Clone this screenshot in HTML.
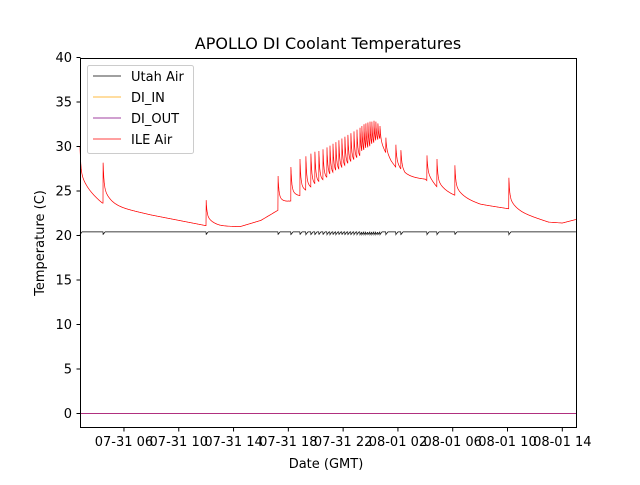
<!DOCTYPE html>
<html><head><meta charset="utf-8"><style>
body{margin:0;background:#fff;}
svg text{font-family:"DejaVu Sans","Liberation Sans",sans-serif;}
</style></head><body>
<svg id="chart" width="640" height="480" xmlns="http://www.w3.org/2000/svg">
<rect width="640" height="480" fill="#fff"/>
<text x="328" y="49" text-anchor="middle" font-size="16">APOLLO DI Coolant Temperatures</text>
<g id="plot"></g>
<rect x="80.5" y="58.5" width="496" height="369" fill="none" stroke="#000" stroke-width="1"/>
<g id="yticks"></g>
<g id="xticks"></g>
<text transform="translate(44,243) rotate(-90)" text-anchor="middle" font-size="13">Temperature (C)</text>
<text x="326" y="468" text-anchor="middle" font-size="13">Date (GMT)</text>
<g>
<rect x="87.5" y="65.5" width="106" height="88" fill="#fff" fill-opacity="0.8" stroke="#ccc" rx="2"/>
<g><line x1="93" y1="76" x2="121" y2="76" stroke="#000" stroke-width="0.8"/><text x="131" y="81" font-size="13">Utah Air</text></g>
<g><line x1="93" y1="97" x2="121" y2="97" stroke="#ffa500" stroke-width="0.8"/><text x="131" y="102" font-size="13">DI_IN</text></g>
<g><line x1="93" y1="118" x2="121" y2="118" stroke="#800080" stroke-width="0.8"/><text x="131" y="123" font-size="13">DI_OUT</text></g>
<g><line x1="93" y1="139" x2="121" y2="139" stroke="#f00" stroke-width="0.8"/><text x="131" y="144" font-size="13">ILE Air</text></g>
</g>
</svg>
<script>
const yTicks=[0,5,10,15,20,25,30,35,40];
const xTickHours=[6,10,14,18,22,26,30,34,38];
const xTickLabels=["07-31 06","07-31 10","07-31 14","07-31 18","07-31 22","08-01 02","08-01 06","08-01 10","08-01 14"];
const spikeHours=[2.79,4.47,11.99,17.24,18.19,18.85,19.28,19.65,19.94,20.23,20.53,20.82,21.04,21.26,21.47,21.69,21.91,22.13,22.35,22.57,22.79,23.01,23.23,23.37,23.52,23.66,23.81,23.96,24.10,24.25,24.39,24.54,24.69,25.12,25.85,26.22,28.12,28.85,30.16,34.1];
const spikePeaks=[30,28.7,24.3,27.1,27.7,28.6,28.9,29.2,29.4,29.5,29.7,29.9,30.1,30.3,30.5,30.7,30.9,31.1,31.3,31.5,31.7,31.9,32.1,32.3,32.5,32.6,32.7,32.8,32.8,32.9,32.8,32.6,32.3,31.0,30.2,29.6,29.0,28.6,27.9,26.5];
const baseHours=[2.79,4.4,6,8,10,12,13,14.5,16,17.2,18,20,22,24,24.7,25.5,26.5,28,29,30.2,32,34.1,35,37,38,39];
const baseTemps=[25.5,23.6,23.0,22.3,21.7,21.1,21.0,21.0,21.7,22.8,23.5,24.8,26.5,28.5,29.8,28.0,26.5,26.3,25.0,24.4,23.5,23.0,22.5,21.5,21.4,21.8];
const utahLevel=20.4;
const diInLevel=0;
const diOutLevel=0;
const H0=2.79,H1=39.0;
const X=h=>80+(h-H0)/(H1-H0)*496;
const Y=v=>413.5-8.9*v;
const NS="http://www.w3.org/2000/svg";
const plot=document.getElementById('plot');
function base(h){for(let i=0;i<baseHours.length-1;i++){if(h<=baseHours[i+1]){const t=(h-baseHours[i])/(baseHours[i+1]-baseHours[i]);return baseTemps[i]+t*(baseTemps[i+1]-baseTemps[i]);}}return baseTemps[baseTemps.length-1];}
function mk(tag,attrs){const e=document.createElementNS(NS,tag);for(const k in attrs)e.setAttribute(k,attrs[k]);return e;}
const yt=document.getElementById('yticks');
yTicks.forEach(v=>{
 const l=mk('line',{x1:76.5,x2:80.5,y1:Y(v),y2:Y(v),stroke:'#000'});
 
 
 yt.appendChild(l);
 const t=mk('text',{x:72,y:Y(v)+4.5,'text-anchor':'end','font-size':13});
 
 
 t.textContent=v;yt.appendChild(t);
});
const xt=document.getElementById('xticks');
xTickHours.forEach((h,i)=>{
 const l=mk('line',{x1:X(h),x2:X(h),y1:427.5,y2:431.5,stroke:'#000'});
 
 
 xt.appendChild(l);
 const t=mk('text',{x:X(h),y:446,'text-anchor':'middle','font-size':13});
 
 
 t.textContent=xTickLabels[i];xt.appendChild(t);
});
let pts=[],upts=[];
let si=0;
for(let h=H0;h<=H1;h+=0.01){
 while(si+1<spikeHours.length&&h>=spikeHours[si+1])si++;
 const ts=spikeHours[si];
 let v=base(h);
 let u=utahLevel;
 if(h>=ts){const d=h-ts;v+=(spikePeaks[si]-base(ts))*(0.6*Math.exp(-d/0.06)+0.4*Math.exp(-d/0.5));
   if(d<0.15)u-=0.3*(1-d/0.15);}
 pts.push(X(h).toFixed(1)+','+Y(v).toFixed(1));
 upts.push(X(h).toFixed(1)+','+Y(u).toFixed(1));
}
const din=mk('line',{x1:80,x2:576,y1:Y(diInLevel),y2:Y(diInLevel),stroke:'#ffa500','stroke-width':0.8});


plot.appendChild(din);
const dout=mk('line',{x1:80,x2:576,y1:Y(diOutLevel),y2:Y(diOutLevel),stroke:'#b0307f','stroke-width':1});


plot.appendChild(dout);
const ut=mk('polyline',{points:upts.join(' '),fill:'none',stroke:'#000','stroke-width':0.7});


plot.appendChild(ut);
const ile=mk('polyline',{points:pts.join(' '),fill:'none',stroke:'#f00','stroke-width':0.7});


plot.appendChild(ile);
</script>
</body></html>
